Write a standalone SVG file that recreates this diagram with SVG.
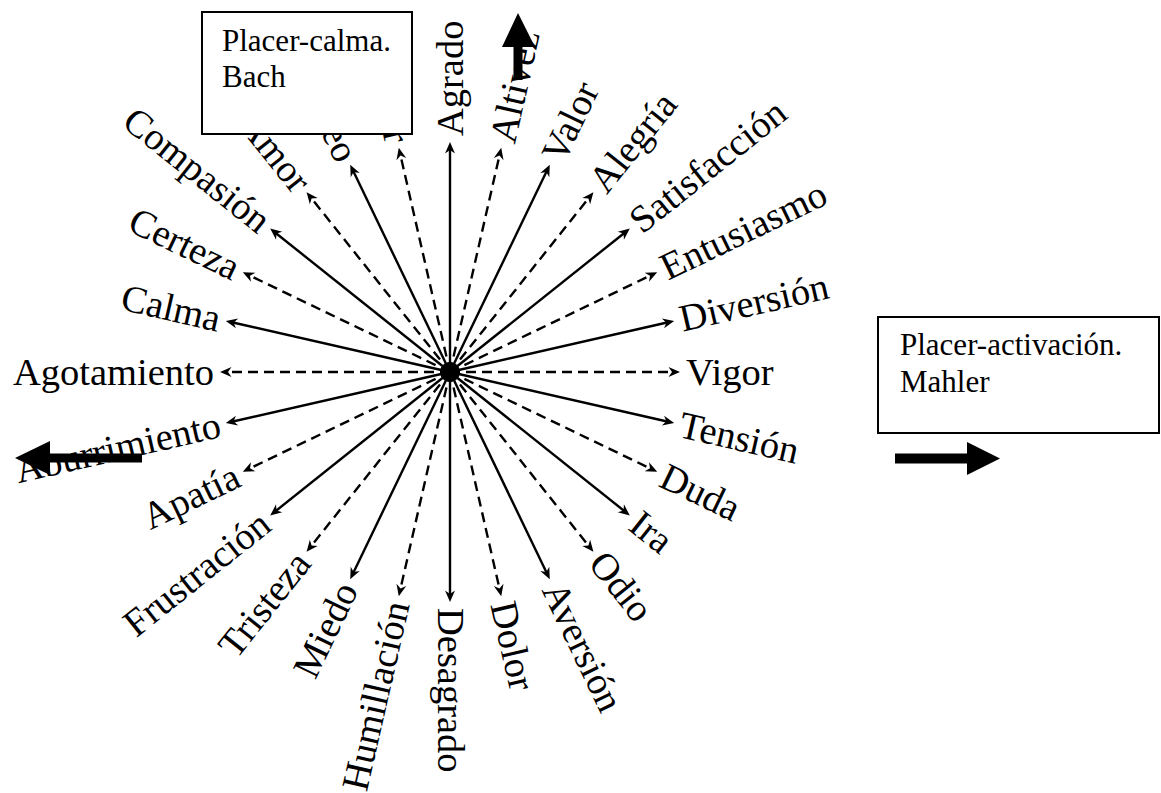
<svg xmlns="http://www.w3.org/2000/svg" width="1161" height="793" viewBox="0 0 1161 793">
<style>
.lbl{font-family:"Liberation Serif","Times New Roman",serif;font-size:38.5px;fill:#000}
.bx{font-family:"Liberation Serif","Times New Roman",serif;font-size:31px;fill:#000}
.ray{stroke:#000;stroke-width:2.4;fill:none;marker-end:url(#ah)}
.d{stroke-dasharray:10 6}
.frame{fill:#fff;stroke:#000;stroke-width:2}
.big{fill:#000}
</style>
<defs>
<marker id="ah" markerUnits="userSpaceOnUse" viewBox="-8 -6 14 12" markerWidth="14" markerHeight="12" refX="0" refY="0" orient="auto">
<path d="M5,0 L-6.5,-5 L-3,0 L-6.5,5 z" fill="#000"/>
</marker>
</defs>
<rect width="1161" height="793" fill="#fff"/>
<g id="connectors">
<line class="ray d" x1="450" y1="372" x2="675" y2="372"/>
<line class="ray" x1="450" y1="372" x2="669.3" y2="422.0"/>
<line class="ray d" x1="450" y1="372" x2="652.7" y2="469.6"/>
<line class="ray" x1="450" y1="372" x2="625.9" y2="512.3"/>
<line class="ray d" x1="450" y1="372" x2="590.3" y2="547.9"/>
<line class="ray" x1="450" y1="372" x2="547.6" y2="574.7"/>
<line class="ray d" x1="450" y1="372" x2="500.1" y2="591.3"/>
<line class="ray" x1="450" y1="372" x2="450" y2="597"/>
<line class="ray d" x1="450" y1="372" x2="399.9" y2="591.3"/>
<line class="ray" x1="450" y1="372" x2="352.4" y2="574.7"/>
<line class="ray d" x1="450" y1="372" x2="309.7" y2="547.9"/>
<line class="ray" x1="450" y1="372" x2="274.1" y2="512.3"/>
<line class="ray d" x1="450" y1="372" x2="247.3" y2="469.6"/>
<line class="ray" x1="450" y1="372" x2="230.7" y2="422.0"/>
<line class="ray d" x1="450" y1="372" x2="225" y2="372"/>
<line class="ray" x1="450" y1="372" x2="230.7" y2="322.0"/>
<line class="ray d" x1="450" y1="372" x2="247.3" y2="274.4"/>
<line class="ray" x1="450" y1="372" x2="274.1" y2="231.7"/>
<line class="ray d" x1="450" y1="372" x2="309.7" y2="196.1"/>
<line class="ray" x1="450" y1="372" x2="352.4" y2="169.3"/>
<line class="ray d" x1="450" y1="372" x2="399.9" y2="152.7"/>
<line class="ray" x1="450" y1="372" x2="450" y2="147"/>
<line class="ray d" x1="450" y1="372" x2="500.1" y2="152.7"/>
<line class="ray" x1="450" y1="372" x2="547.6" y2="169.3"/>
<line class="ray d" x1="450" y1="372" x2="590.3" y2="196.1"/>
<line class="ray" x1="450" y1="372" x2="625.9" y2="231.7"/>
<line class="ray d" x1="450" y1="372" x2="652.7" y2="274.4"/>
<line class="ray" x1="450" y1="372" x2="669.3" y2="322.0"/>
</g>
<g id="n-vigor"><text class="lbl" transform="translate(686,372) rotate(0)" y="12.5">Vigor</text></g>
<g id="n-tension"><text class="lbl" transform="translate(680,424.5) rotate(12.857)" y="12.5">Tensión</text></g>
<g id="n-duda"><text class="lbl" transform="translate(662.6,474.4) rotate(25.714)" y="12.5">Duda</text></g>
<g id="n-ira"><text class="lbl" transform="translate(634.5,519.1) rotate(38.571)" y="12.5">Ira</text></g>
<g id="n-odio"><text class="lbl" transform="translate(597.1,556.5) rotate(51.429)" y="12.5">Odio</text></g>
<g id="n-aversion"><text class="lbl" transform="translate(552.4,584.6) rotate(64.286)" y="12.5">Aversión</text></g>
<g id="n-dolor"><text class="lbl" transform="translate(502.5,602) rotate(77.143)" y="12.5">Dolor</text></g>
<g id="n-desagrado"><text class="lbl" transform="translate(450,608) rotate(90)" y="12.5">Desagrado</text></g>
<g id="n-humillacion"><text class="lbl" text-anchor="end" transform="translate(397.5,602) rotate(-77.143)" y="12.5">Humillación</text></g>
<g id="n-miedo"><text class="lbl" text-anchor="end" transform="translate(347.6,584.6) rotate(-64.286)" y="12.5">Miedo</text></g>
<g id="n-tristeza"><text class="lbl" text-anchor="end" transform="translate(302.9,556.5) rotate(-51.429)" y="12.5">Tristeza</text></g>
<g id="n-frustracion"><text class="lbl" text-anchor="end" transform="translate(265.5,519.1) rotate(-38.571)" y="12.5">Frustración</text></g>
<g id="n-apatia"><text class="lbl" text-anchor="end" transform="translate(237.4,474.4) rotate(-25.714)" y="12.5">Apatía</text></g>
<g id="n-aburrimiento"><text class="lbl" text-anchor="end" transform="translate(220,424.5) rotate(-12.857)" y="12.5">Aburrimiento</text></g>
<g id="n-agotamiento"><text class="lbl" text-anchor="end" transform="translate(214,372) rotate(0)" y="12.5">Agotamiento</text></g>
<g id="n-calma"><text class="lbl" text-anchor="end" transform="translate(220,319.5) rotate(12.857)" y="12.5">Calma</text></g>
<g id="n-certeza"><text class="lbl" text-anchor="end" transform="translate(237.4,269.6) rotate(25.714)" y="12.5">Certeza</text></g>
<g id="n-compasion"><text class="lbl" text-anchor="end" transform="translate(265.5,224.9) rotate(38.571)" y="12.5">Compasión</text></g>
<g id="n-amor"><text class="lbl" text-anchor="end" transform="translate(302.9,187.5) rotate(51.429)" y="12.5">Amor</text></g>
<g id="n-eo"><text class="lbl" text-anchor="end" transform="translate(347.6,159.4) rotate(64.286)" y="12.5">eo</text></g>
<g id="n-r"><text class="lbl" text-anchor="end" transform="translate(397.5,142) rotate(77.143)" y="12.5">r</text></g>
<g id="n-agrado"><text class="lbl" transform="translate(450,136) rotate(-90)" y="12.5">Agrado</text></g>
<g id="n-altivez"><text class="lbl" transform="translate(502.5,142) rotate(-77.143)" y="12.5">Altivez</text></g>
<g id="n-valor"><text class="lbl" transform="translate(552.4,159.4) rotate(-64.286)" y="12.5">Valor</text></g>
<g id="n-alegria"><text class="lbl" transform="translate(597.1,187.5) rotate(-51.429)" y="12.5">Alegría</text></g>
<g id="n-satisfaccion"><text class="lbl" transform="translate(634.5,224.9) rotate(-38.571)" y="12.5">Satisfacción</text></g>
<g id="n-entusiasmo"><text class="lbl" transform="translate(662.6,269.6) rotate(-25.714)" y="12.5">Entusiasmo</text></g>
<g id="n-diversion"><text class="lbl" transform="translate(680,319.5) rotate(-12.857)" y="12.5">Diversión</text></g>
<g id="box-bach">
<rect class="frame" x="202" y="12" width="210" height="122"/>
<text class="bx" x="222" y="51">Placer-calma.</text>
<text class="bx" x="222" y="87">Bach</text>
</g>
<g id="box-mahler">
<rect class="frame" x="878" y="317" width="281" height="116"/>
<text class="bx" x="900" y="355">Placer-activación.</text>
<text class="bx" x="900" y="392">Mahler</text>
</g>
<g id="arrow-up"><polygon class="big" points="513.5,80 513.5,47 502,47 518,13 535,47 522.5,47 522.5,80"/></g>
<g id="arrow-left"><polygon class="big" points="142,453.5 50,453.5 50,441 15,458 50,475 50,462.5 142,462.5"/></g>
<g id="arrow-right"><polygon class="big" points="895,453.5 967,453.5 967,442 1000,458.5 967,475 967,463.5 895,463.5"/></g>
</svg>
